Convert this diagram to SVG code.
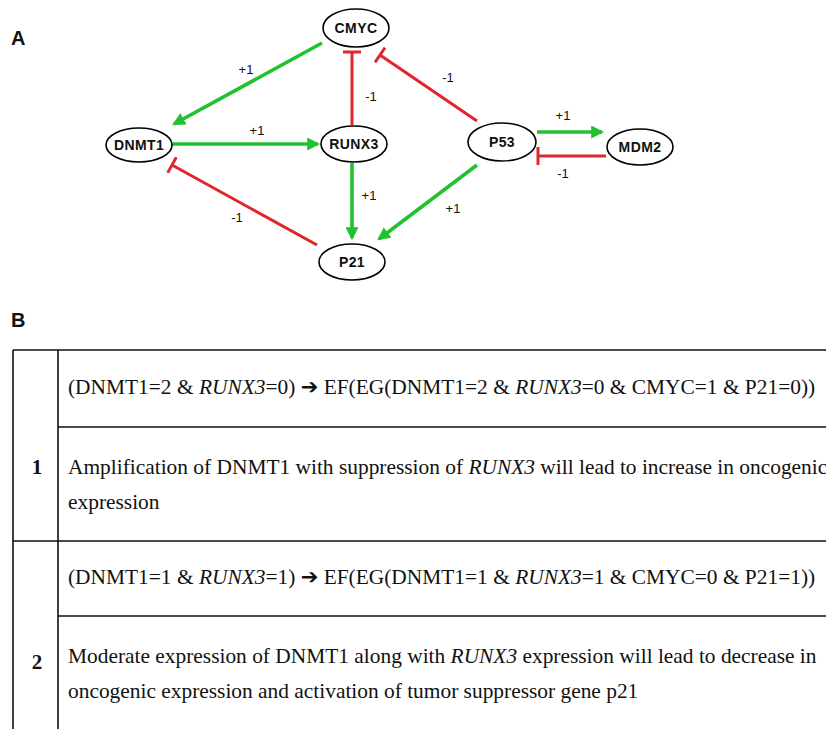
<svg xmlns="http://www.w3.org/2000/svg" width="826" height="729" viewBox="0 0 826 729">
<style>
.node ellipse{fill:#fff;stroke:#000;stroke-width:1.6}
.node text{font-family:"Liberation Sans",Arial,sans-serif;font-size:14px;font-weight:bold;letter-spacing:0.4px;text-anchor:middle;fill:#111}
.act{stroke:#22c22e;stroke-width:3.6;fill:none}
.inh{stroke:#e0262b;stroke-width:3;fill:none}
.el{font-family:"Liberation Sans",Arial,sans-serif;font-size:13px;fill:#111;text-anchor:middle}
.panel{font-family:"Liberation Sans",Arial,sans-serif;font-size:20px;font-weight:bold;fill:#111}
.tbl{stroke:#111;stroke-width:1.6;fill:none}
.tt{font-family:"Liberation Serif","Times New Roman",serif;font-size:21.4px;fill:#111}
.num{font-family:"Liberation Serif","Times New Roman",serif;font-size:21px;font-weight:bold;fill:#111;text-anchor:middle}
.it{font-style:italic}
.ar{font-family:"DejaVu Sans",sans-serif;font-size:21px;font-weight:bold}
</style>
<defs>
<marker id="arr" viewBox="0 0 12 12" refX="10" refY="6" markerWidth="13" markerHeight="13" markerUnits="userSpaceOnUse" orient="auto">
<path d="M0,0 L12,6 L0,12 z" fill="#22c22e"/>
</marker>
<marker id="bar" viewBox="0 0 4 18" refX="2" refY="9" markerWidth="4" markerHeight="18" markerUnits="userSpaceOnUse" orient="auto">
<path d="M2,0 L2,18" stroke="#e0262b" stroke-width="3"/>
</marker>
</defs>

<text class="panel" x="11" y="45">A</text>
<text class="panel" x="11" y="327">B</text>

<g id="connectors">
<path class="act" d="M322,43 L174,124" marker-end="url(#arr)"/>
<path class="act" d="M172,144 L318,144" marker-end="url(#arr)"/>
<path class="inh" d="M352,125 L352,52" marker-end="url(#bar)"/>
<path class="inh" d="M477,121 L380,55" marker-end="url(#bar)"/>
<path class="act" d="M537,132 L602,132" marker-end="url(#arr)"/>
<path class="inh" d="M606,156 L538,156" marker-end="url(#bar)"/>
<path class="act" d="M352,163 L352,238" marker-end="url(#arr)"/>
<path class="act" d="M477,165 L379,239" marker-end="url(#arr)"/>
<path class="inh" d="M317,245 L172,165" marker-end="url(#bar)"/>
<text class="el" x="246" y="74">+1</text>
<text class="el" x="371" y="101">-1</text>
<text class="el" x="257" y="135">+1</text>
<text class="el" x="448" y="82">-1</text>
<text class="el" x="563" y="120">+1</text>
<text class="el" x="563" y="178">-1</text>
<text class="el" x="369" y="200">+1</text>
<text class="el" x="453" y="213">+1</text>
<text class="el" x="237" y="222">-1</text>
</g>

<g id="CMYC" class="node"><ellipse cx="356" cy="28" rx="33" ry="19"/><text x="356" y="33">CMYC</text></g>
<g id="DNMT1" class="node"><ellipse cx="139" cy="145" rx="33" ry="17"/><text x="139" y="150">DNMT1</text></g>
<g id="RUNX3" class="node"><ellipse cx="354" cy="144" rx="33" ry="18"/><text x="354" y="149">RUNX3</text></g>
<g id="P53" class="node"><ellipse cx="502" cy="142" rx="34" ry="19"/><text x="502" y="147">P53</text></g>
<g id="MDM2" class="node"><ellipse cx="640" cy="147" rx="33" ry="18"/><text x="640" y="152">MDM2</text></g>
<g id="P21" class="node"><ellipse cx="352" cy="262" rx="33" ry="18"/><text x="352" y="267">P21</text></g>

<g id="table">
<path class="tbl" d="M13,350 L826,350 M13,350 L13,729 M58,350 L58,729 M58,427 L826,427 M13,541 L826,541 M58,616 L826,616"/>
<text class="tt" x="68" y="394">(DNMT1=2 &amp; <tspan class="it">RUNX3</tspan>=0) <tspan class="ar">➔</tspan> EF(EG(DNMT1=2 &amp; <tspan class="it">RUNX3</tspan>=0 &amp; CMYC=1 &amp; P21=0))</text>
<text class="num" x="37" y="474">1</text>
<text class="tt" x="68" y="474">Amplification of DNMT1 with suppression of <tspan class="it">RUNX3</tspan> will lead to increase in oncogenic</text>
<text class="tt" x="68" y="509">expression</text>
<text class="tt" x="68" y="584">(DNMT1=1 &amp; <tspan class="it">RUNX3</tspan>=1) <tspan class="ar">➔</tspan> EF(EG(DNMT1=1 &amp; <tspan class="it">RUNX3</tspan>=1 &amp; CMYC=0 &amp; P21=1))</text>
<text class="num" x="37" y="669">2</text>
<text class="tt" x="68" y="663">Moderate expression of DNMT1 along with <tspan class="it">RUNX3</tspan> expression will lead to decrease in</text>
<text class="tt" x="68" y="698">oncogenic expression and activation of tumor suppressor gene p21</text>
</g>
</svg>
